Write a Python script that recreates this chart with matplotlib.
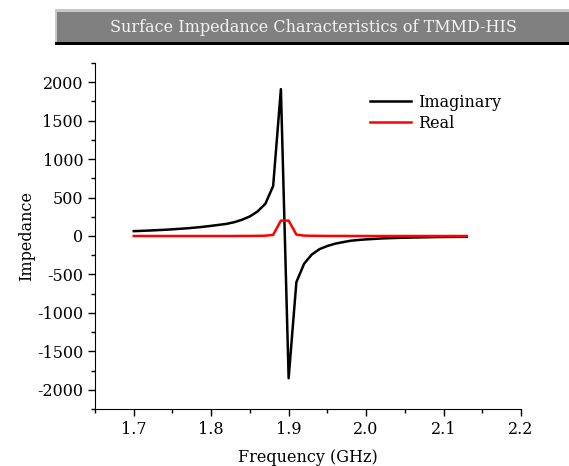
import numpy as np
import matplotlib
matplotlib.use("Agg")
import matplotlib.pyplot as plt
from matplotlib.patches import Rectangle
from matplotlib.ticker import MultipleLocator

# frequency points in GHz
freq = [1.70, 1.71, 1.72, 1.73, 1.74, 1.75, 1.76, 1.77, 1.78, 1.79,
        1.80, 1.81, 1.82, 1.83, 1.84, 1.85, 1.86, 1.87, 1.88, 1.89,
        1.90, 1.91, 1.92, 1.93, 1.94, 1.95, 1.96, 1.97, 1.98, 1.99,
        2.00, 2.01, 2.02, 2.03, 2.04, 2.05, 2.06, 2.07, 2.08, 2.09,
        2.10, 2.11, 2.12, 2.13]

imaginary = [63, 67, 71, 76, 81, 87, 94, 101, 110, 120,
             132, 145, 158, 180, 212, 255, 320, 420, 650, 1910,
             -1850, -600, -360, -240, -170, -130, -100, -80, -62, -52,
             -44, -38, -32, -28, -25, -22, -20, -18, -16, -14,
             -13, -12, -11, -10]

real = [0, 0, 0, 0, 0, 0, 0, 0, 0, 0,
        0, 0, 0, 0, 1, 1, 2, 4, 15, 200,
        200, 18, 5, 3, 2, 1, 1, 1, 0, 0,
        0, 0, 0, 0, 0, 0, 0, 0, 0, 0,
        0, 0, 0, 0]

plt.rcParams["font.family"] = ["DejaVu Serif"]
plt.rcParams["font.size"] = 11.5
plt.rcParams["axes.unicode_minus"] = False

W, H = 569, 466
fig = plt.figure(figsize=(W / 100, H / 100), dpi=100)

# title banner (pixel coords converted to figure fraction)
def px(x0, y0, x1, y1):
    return (x0 / W, 1 - y1 / H), (x1 - x0) / W, (y1 - y0) / H

for (x0, y0, x1, y1, c) in [(55, 9, 569, 45, "#000000"),
                             (55, 9, 569, 42, "#c8c8c8"),
                             (57, 12, 569, 42, "#808080")]:
    xy, w, h = px(x0, y0, x1, y1)
    fig.patches.append(Rectangle(xy, w, h, transform=fig.transFigure,
                                 facecolor=c, edgecolor="none"))
fig.text(313 / W, 1 - 27 / H, "Surface Impedance Characteristics of TMMD-HIS",
         ha="center", va="center", color="#f4f4f4", fontsize=11.5)

ax = fig.add_axes([95 / W, 57 / H, 426 / W, 346 / H])
ax.plot(freq, imaginary, color="black", lw=1.8, label="Imaginary")
ax.plot(freq, real, color="red", lw=1.8, label="Real")

ax.set_xlim(1.65, 2.2)
ax.set_ylim(-2250, 2250)
ax.xaxis.set_minor_locator(MultipleLocator(0.05))
ax.yaxis.set_major_locator(MultipleLocator(500))
ax.yaxis.set_minor_locator(MultipleLocator(250))
ax.set_xticks([1.7, 1.8, 1.9, 2.0, 2.1, 2.2])
ax.set_xticklabels(["1.7", "1.8", "1.9", "2.0", "2.1", "2.2"])
ax.tick_params(which="major", length=5, width=1)
ax.tick_params(which="minor", length=3, width=1)
for s in ["top", "right"]:
    ax.spines[s].set_visible(False)

ax.set_xlabel("Frequency (GHz)", labelpad=8)
ax.set_ylabel("Impedance", labelpad=1)

ax.legend(frameon=False, loc="upper left", bbox_to_anchor=(0.63, 0.93),
          borderaxespad=0, handlelength=2.6, labelspacing=0.25,
          handletextpad=0.4)

fig.savefig("out.png", dpi=100)
